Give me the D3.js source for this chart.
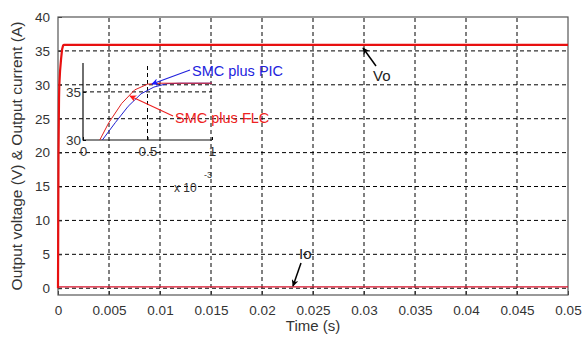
<!DOCTYPE html>
<html>
<head>
<meta charset="utf-8">
<script src="https://cdn.jsdelivr.net/npm/d3@7"></script>
<style>
  body { margin: 0; background: #fff; }
  text { font-family: "Liberation Sans", Arial, sans-serif; }
</style>
</head>
<body>
<script>
let w = 583;
let h = 337;
let margin = { top: 17, right: 15, bottom: 42, left: 58 };

// main plot data
let xTicks = [0, 0.005, 0.01, 0.015, 0.02, 0.025, 0.03, 0.035, 0.04, 0.045, 0.05];
let yTicks = [0, 5, 10, 15, 20, 25, 30, 35, 40];
let voTime = [0, 0.00005, 0.0001, 0.00013, 0.0002, 0.0003, 0.0004, 0.0005, 0.0006, 0.01, 0.02, 0.03, 0.04, 0.05];
let voValue = [0, 20, 28, 30, 32, 33.8, 35.2, 35.8, 35.9, 35.9, 35.9, 35.9, 35.9, 35.9];
let ioTime = [0, 0.05];
let ioValue = [0.2, 0.2];

// inset data (time x 10^-3)
let insetXTicks = [0, 0.5, 1];
let insetYTicks = [30, 35];
let flcTime = [0.13, 0.2, 0.3, 0.4, 0.5, 0.6, 1];
let flcValue = [30, 31.8, 33.8, 35.2, 35.8, 35.9, 35.9];
let picTime = [0.15, 0.25, 0.35, 0.45, 0.55, 0.65, 0.75, 1];
let picValue = [30, 31.8, 33.5, 34.8, 35.5, 35.85, 35.9, 35.9];

let svg = d3.select("body").append("svg").attr("width", w).attr("height", h);

let defs = svg.append("defs");
function marker(id, color) {
  defs.append("marker")
    .attr("id", id)
    .attr("viewBox", "0 0 10 10")
    .attr("refX", 9)
    .attr("refY", 5)
    .attr("markerWidth", 7)
    .attr("markerHeight", 7)
    .attr("markerUnits", "userSpaceOnUse")
    .attr("orient", "auto")
    .append("path")
    .attr("d", "M0,0L10,5L0,10L3,5Z")
    .attr("fill", color);
}
marker("arrBlack", "#000");
marker("arrBlue", "#1a1aff");
marker("arrRed", "#ff1a1a");

let x = d3.scaleLinear().domain([0, 0.05]).range([margin.left, w - margin.right]);
let y = d3.scaleLinear().domain([-1, 40]).range([h - margin.bottom, margin.top]);

// grid
let grid = svg.append("g").attr("stroke", "#000").attr("stroke-width", 1).attr("stroke-dasharray", "4,3");
grid.selectAll(".gx").data(xTicks.slice(1, -1)).enter().append("line")
  .attr("x1", d => x(d)).attr("x2", d => x(d))
  .attr("y1", y.range()[0]).attr("y2", y.range()[1]);
grid.selectAll(".gy").data(yTicks.slice(0, -1)).enter().append("line")
  .attr("y1", d => y(d)).attr("y2", d => y(d))
  .attr("x1", x.range()[0]).attr("x2", x.range()[1]);

// axes
let xAxis = svg.append("g")
  .attr("transform", `translate(0,${h - margin.bottom})`)
  .call(d3.axisBottom(x).tickValues(xTicks).tickSize(-4).tickPadding(10).tickFormat(d => d3.format("")(+d.toFixed(3))));
let yAxis = svg.append("g")
  .attr("transform", `translate(${margin.left},0)`)
  .call(d3.axisLeft(y).tickValues(yTicks).tickSize(-4).tickPadding(8));
[xAxis, yAxis].forEach(a => {
  a.select(".domain").remove();
  a.selectAll(".tick line").attr("stroke", "#333");
  a.selectAll("text").attr("fill", "#333").style("font-size", "13.5px");
});

// frame
svg.append("rect")
  .attr("x", x.range()[0]).attr("y", y.range()[1])
  .attr("width", x.range()[1] - x.range()[0])
  .attr("height", y.range()[0] - y.range()[1])
  .attr("fill", "none").attr("stroke", "#555").attr("stroke-width", 1.2);

// lines
let line = d3.line().x(d => x(d[0])).y(d => y(d[1]));
svg.append("path")
  .datum(ioTime.map((t, i) => [t, ioValue[i]]))
  .attr("d", line).attr("fill", "none").attr("stroke", "#d8102a").attr("stroke-width", 1.2);
svg.append("path")
  .datum(voTime.map((t, i) => [t, voValue[i]]))
  .attr("d", line).attr("fill", "none").attr("stroke", "#e81010").attr("stroke-width", 2.2);

// inset
let ix = d3.scaleLinear().domain([0, 1]).range([83, 212]);
let iy = d3.scaleLinear().domain([30, 38]).range([140, 63]);
let inset = svg.append("g");
inset.append("line").attr("x1", ix(0.5)).attr("x2", ix(0.5)).attr("y1", iy(30)).attr("y2", iy(38))
  .attr("stroke", "#000").attr("stroke-dasharray", "4,3");
inset.append("line").attr("x1", ix(0)).attr("x2", ix(1)).attr("y1", iy(35)).attr("y2", iy(35))
  .attr("stroke", "#000").attr("stroke-dasharray", "4,3");
let ixAxis = inset.append("g").attr("transform", `translate(0,${iy(30)})`)
  .call(d3.axisBottom(ix).tickValues(insetXTicks).tickSize(-3).tickPadding(6).tickFormat(d3.format("")));
let iyAxis = inset.append("g").attr("transform", `translate(${ix(0)},0)`)
  .call(d3.axisLeft(iy).tickValues(insetYTicks).tickSize(-3).tickPadding(2));
[ixAxis, iyAxis].forEach(a => {
  a.select(".domain").remove();
  a.selectAll("text").attr("fill", "#333").style("font-size", "13.5px");
});
inset.append("path").attr("d", `M${ix(0)},${iy(38)}V${iy(30)}H${ix(1)}`)
  .attr("fill", "none").attr("stroke", "#111").attr("stroke-width", 1.2);

let iline = d3.line().x(d => ix(d[0])).y(d => iy(d[1]));
inset.append("path")
  .datum(picTime.map((t, i) => [t, picValue[i]]))
  .attr("d", iline).attr("fill", "none").attr("stroke", "#2020d0").attr("stroke-width", 1);
inset.append("path")
  .datum(flcTime.map((t, i) => [t, flcValue[i]]))
  .attr("d", iline).attr("fill", "none").attr("stroke", "#e02020").attr("stroke-width", 1);

inset.append("text").attr("x", 174).attr("y", 192).attr("fill", "#333").style("font-size", "12px").text("x 10");
inset.append("text").attr("x", 204).attr("y", 178).attr("fill", "#333").style("font-size", "9px").text("-3");

// annotations
svg.append("text").attr("x", 192).attr("y", 76).attr("fill", "#2222dd").style("font-size", "14.5px").text("SMC plus PIC");
svg.append("line").attr("x1", 190).attr("y1", 70).attr("x2", 152).attr("y2", 84)
  .attr("stroke", "#2222dd").attr("stroke-width", 1.2).attr("marker-end", "url(#arrBlue)");
svg.append("text").attr("x", 175).attr("y", 123).attr("fill", "#ee2222").style("font-size", "14.5px").text("SMC plus FLC");
svg.append("line").attr("x1", 173).attr("y1", 116).attr("x2", 130).attr("y2", 96)
  .attr("stroke", "#ee2222").attr("stroke-width", 1.2).attr("marker-end", "url(#arrRed)");

svg.append("text").attr("x", 373).attr("y", 81).attr("fill", "#222").style("font-size", "15px").text("Vo");
svg.append("line").attr("x1", 376).attr("y1", 66).attr("x2", 363).attr("y2", 48)
  .attr("stroke", "#000").attr("stroke-width", 1.5).attr("marker-end", "url(#arrBlack)");
svg.append("text").attr("x", 299).attr("y", 259).attr("fill", "#222").style("font-size", "15px").text("Io");
svg.append("line").attr("x1", 301).attr("y1", 263).attr("x2", 293).attr("y2", 286)
  .attr("stroke", "#000").attr("stroke-width", 1.5).attr("marker-end", "url(#arrBlack)");

// axis titles
svg.append("text").attr("x", 313).attr("y", 331).attr("text-anchor", "middle")
  .attr("fill", "#333").style("font-size", "15px").text("Time (s)");
svg.append("text").attr("transform", `translate(22,${(margin.top + h - margin.bottom) / 2}) rotate(-90)`)
  .attr("text-anchor", "middle").attr("fill", "#333").style("font-size", "15.5px")
  .text("Output voltage (V) & Output current (A)");
</script>
</body>
</html>
